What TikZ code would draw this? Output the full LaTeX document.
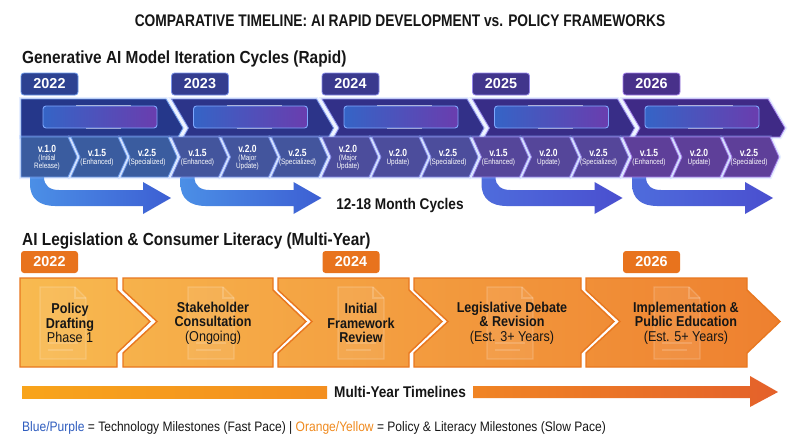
\documentclass[tikz,border=0pt]{standalone}
\usepackage{fontspec}
\setmainfont{Liberation Sans}
\newfontfamily\cn[FakeStretch=0.88]{Liberation Sans}
\newfontfamily\cnn[FakeStretch=0.82]{Liberation Sans}
\definecolor{topB}{HTML}{25378A}
\definecolor{topP}{HTML}{3F2A86}
\definecolor{subB}{HTML}{3A5C9F}
\definecolor{subP}{HTML}{5E3F99}
\definecolor{tabB}{HTML}{2D4291}
\definecolor{tabP}{HTML}{48308A}
\definecolor{edgeB}{HTML}{6E9BEA}
\definecolor{edgeP}{HTML}{A27FEA}
\definecolor{glowc}{HTML}{8FB5FF}
\definecolor{arrL}{HTML}{4B8FE6}
\definecolor{arrR}{HTML}{3D5FD3}
\definecolor{arrPL}{HTML}{4E6CDC}
\definecolor{arrPR}{HTML}{4A4FCF}
\definecolor{hlL}{HTML}{3564C6}
\definecolor{hlR}{HTML}{6A3DAE}
\definecolor{hlE}{HTML}{7FA8FF}
\definecolor{or1}{HTML}{F8BA50}
\definecolor{or5}{HTML}{EE802F}
\definecolor{orEdge}{HTML}{E8771F}
\definecolor{orTab}{HTML}{E8731D}
\definecolor{txt}{HTML}{161616}
\definecolor{legB}{HTML}{2F5DBF}
\definecolor{legO}{HTML}{F08A1E}
\definecolor{mA}{HTML}{F8A41B}
\definecolor{mB}{HTML}{F38F20}
\definecolor{mC}{HTML}{F08424}
\definecolor{mD}{HTML}{E4612A}

\newcommand{\vf}{\cnn\bfseries\fontsize{10.4}{11}\selectfont}
\newcommand{\bblock}[8]{%
  \pgfmathsetmacro{\L}{21+150.5*#1}%
  \pgfmathtruncatemacro{\p}{100-25*#1}%
  \colorlet{tc}{topB!\p!topP}%
  \colorlet{sc}{subB!\p!subP}%
  \colorlet{tbc}{tabB!\p!tabP}%
  \colorlet{ec}{edgeB!\p!edgeP}%
  \pgfmathsetmacro{\nd}{ifthenelse(#1>0,17,0)}%
  \pgfmathsetmacro{\ne}{ifthenelse(#1>0,12,0)}%
  \pgfmathsetmacro{\ns}{ifthenelse(#1>0,9,0)}%
  \node[btab, fill=tbc, draw=ec] (bt#1) at ({\L+28.5},84) {#2};
  \draw[glowpre, draw=ec, fill=tc, line width=.8]
    (\L,99) -- ({\L+145},99) -- ({\L+162},128) -- ({\L+157},137)
    -- ({\L+\ne},137) -- ({\L+\nd},128) -- cycle;
  \draw[rounded corners=3, draw=hlE, line width=.9, left color=hlL, right color=hlR]
    ({\L+22},106) rectangle ({\L+136},128);
  \draw[white, opacity=.55, line width=.8] ({\L+55},105.6) -- ({\L+110},105.6);
  \draw[white, opacity=.45, line width=.8] ({\L+65},128.4) -- ({\L+100},128.4);
  \foreach \j/\n in {0/\ns,1/9,2/9}{%
    \pgfmathsetmacro{\a}{\L+50*\j}%
    \draw[glowpre, draw=ec, fill=sc, line width=.8]
      (\a,137) -- ({\a+47},137) -- ({\a+56},157) -- ({\a+47},177) -- (\a,177)
      -- ({\a+\n},157) -- cycle;
  }
  \node[vlab] (b#1s1) at ({\L+26},157.5) {\vf #3\\#4};
  \node[vlab] (b#1s2) at ({\L+76},157.5) {\vf #5\\#6};
  \node[vlab] (b#1s3) at ({\L+126},157.5) {\vf #7\\#8};
}
\newcommand{\barrow}[3]{%
  \pgfmathsetmacro{\L}{21+150.5*#1}%
  \shade[left color=#2, right color=#3]
    ({\L+9},177) -- ({\L+9},184) .. controls ({\L+9},199) and ({\L+19},206) .. ({\L+34},206)
    -- ({\L+122},206) -- ({\L+122},214) -- ({\L+150},198) -- ({\L+122},182) -- ({\L+122},190)
    -- ({\L+38},190) .. controls ({\L+29},190) and ({\L+23},186) .. ({\L+23},177) -- cycle;
}
\newcommand{\docicon}[1]{%
  \fill[white, opacity=.08] ({#1-23},287) -- ({#1+12},287) -- ({#1+23},298) -- ({#1+23},359) -- ({#1-23},359) -- cycle;
  \draw[white, opacity=.18, line width=1.2] ({#1-23},287) -- ({#1+12},287) -- ({#1+23},298) -- ({#1+23},359) -- ({#1-23},359) -- cycle;
  \draw[white, opacity=.18, line width=1.2] ({#1+12},287) -- ({#1+12},298) -- ({#1+23},298);
  \draw[white, opacity=.16, line width=1.2] ({#1-15},343) -- ({#1+15},343) ({#1-15},350) -- ({#1+10},350);
}

\begin{document}
\begin{tikzpicture}[x=1pt,y=-1pt,
  btab/.style={rounded corners=3, minimum width=57, minimum height=22, inner sep=0,
    text=white, font=\bfseries\fontsize{14.4}{16}\selectfont, line width=.8},
  otab/.style={rounded corners=3, minimum width=57, minimum height=22, inner sep=0,
    text=white, fill=orTab, font=\bfseries\fontsize{14.4}{16}\selectfont},
  glowpre/.style={preaction={draw=glowc, line width=4, opacity=.22}},
  vlab/.style={text=white, align=center, inner sep=0, font=\cnn\fontsize{7.8}{8.3}\selectfont},
  otext/.style={text=txt, align=center, inner sep=0, font=\cn\fontsize{14.3}{14.5}\selectfont},
  hd/.style={text=txt, inner sep=0, anchor=base west, font=\cn\bfseries\fontsize{17.5}{20}\selectfont},
  oblock/.style={draw=orEdge, line width=1.4}
]
\useasboundingbox (0,0) rectangle (800,447);
\fill[white] (0,0) rectangle (800,447);

% title and headings
\node[text=txt, inner sep=0, anchor=base, font=\cnn\bfseries\fontsize{16.8}{19}\selectfont] (title) at (400,26.8)
  {COMPARATIVE TIMELINE: AI RAPID DEVELOPMENT vs. POLICY FRAMEWORKS};
\node[hd] (h1) at (22,63.5) {Generative AI Model Iteration Cycles (Rapid)};
\node[hd] (h2) at (22,245) {AI Legislation \& Consumer Literacy (Multi-Year)};

% blue curved arrows
\barrow{0}{arrL}{arrR}
\barrow{1}{arrL}{arrR}
\barrow{3}{arrPL}{arrPR}
\barrow{4}{arrPL}{arrPR}

% blue blocks
\bblock{0}{2022}{v.1.0}{(Initial\\Release)}{v.1.5}{(Enhanced)}{v.2.5}{(Specialized)}
\bblock{1}{2023}{v.1.5}{(Enhanced)}{v.2.0}{(Major\\Update)}{v.2.5}{(Specialized)}
\bblock{2}{2024}{v.2.0}{(Major\\Update)}{v.2.0}{Update)}{v.2.5}{(Specialized)}
\bblock{3}{2025}{v.1.5}{(Enhanced)}{v.2.0}{Update)}{v.2.5}{(Specialized)}
\bblock{4}{2026}{v.1.5}{(Enhanced)}{v.2.0}{Update)}{v.2.5}{(Specialized)}

\node[text=txt, inner sep=0, font=\cn\bfseries\fontsize{15.5}{18}\selectfont] (cyc) at (400,205) {12-18 Month Cycles};

% orange tabs
\node[otab] (ot1) at (49.5,262) {2022};
\node[otab] (ot2) at (351,262) {2024};
\node[otab] (ot3) at (651.5,262) {2026};

% orange blocks
\shade[oblock, left color=or1, right color=or1!83!or5]
  (20,278) -- (117,278) -- (117,290) -- (150,321.5) -- (117,353) -- (117,367) -- (20,367) -- cycle;
\shade[oblock, left color=or1!86!or5, right color=or1!62!or5]
  (123,278) -- (273,278) -- (273,290) -- (306,321.5) -- (273,353) -- (273,367) -- (123,367)
  -- (123,353) -- (157,321.5) -- (123,290) -- cycle;
\shade[oblock, left color=or1!66!or5, right color=or1!44!or5]
  (278,278) -- (409,278) -- (409,290) -- (442,321.5) -- (409,353) -- (409,367) -- (278,367)
  -- (278,353) -- (312,321.5) -- (278,290) -- cycle;
\shade[oblock, left color=or1!48!or5, right color=or1!22!or5]
  (414,278) -- (581,278) -- (581,290) -- (614,321.5) -- (581,353) -- (581,367) -- (414,367)
  -- (414,353) -- (448,321.5) -- (414,290) -- cycle;
\shade[oblock, left color=or1!26!or5, right color=or5]
  (586,278) -- (747,278) -- (747,290) -- (780,321.5) -- (747,353) -- (747,367) -- (586,367)
  -- (586,353) -- (620,321.5) -- (586,290) -- cycle;

\docicon{63}
\docicon{211}
\docicon{361}
\docicon{510}
\docicon{677}

\node[otext] (o1) at (70,323) {\bfseries Policy\\\bfseries Drafting\\Phase 1};
\node[otext] (o2) at (213,323) {\bfseries Stakeholder\\\bfseries Consultation\\(Ongoing)};
\node[otext] (o3) at (361,323) {\bfseries Initial\\\bfseries Framework\\\bfseries Review};
\node[otext] (o4) at (512,323) {\bfseries Legislative Debate\\\bfseries \& Revision\\(Est. 3+ Years)};
\node[otext] (o5) at (686,323) {\bfseries Implementation \&\\\bfseries Public Education\\(Est. 5+ Years)};

% multi-year arrow
\node[text=txt, inner sep=0, font=\cn\bfseries\fontsize{15.5}{18}\selectfont] (mtl) at (400,392) {Multi-Year Timelines};
\shade[left color=mA, right color=mB] (22,386) rectangle (327,398);
\shade[left color=mC, right color=mD]
  (473,386) -- (750,386) -- (750,376) -- (778,392) -- (750,407) -- (750,398) -- (473,398) -- cycle;

% legend
\node[text=txt, inner sep=0, anchor=west, font=\cn\fontsize{13.7}{16}\selectfont] (leg) at (22,428)
  {{\color{legB}Blue/Purple} = Technology Milestones (Fast Pace) | {\color{legO}Orange/Yellow} = Policy \& Literacy Milestones (Slow Pace)};
\end{tikzpicture}
\end{document}
